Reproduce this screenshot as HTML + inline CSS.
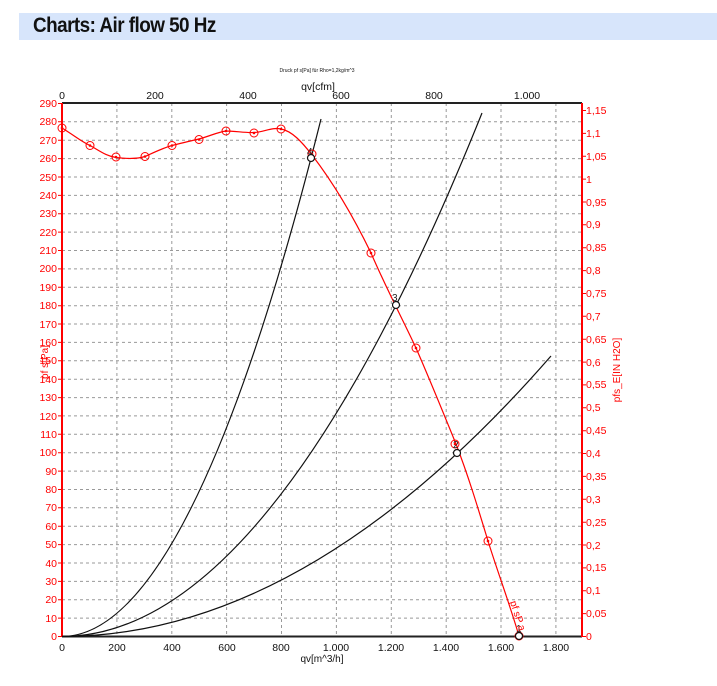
<!DOCTYPE html>
<html><head><meta charset="utf-8"><style>
body{margin:0;background:#fff;width:717px;height:686px;overflow:hidden;font-family:"Liberation Sans",sans-serif}
.hdr{position:absolute;left:19px;top:13px;width:698px;height:27px;background:#d7e5fb}
.hdr span{position:absolute;left:14px;top:1px;font-size:21px;font-weight:bold;color:#111;letter-spacing:-0.6px;transform:scaleX(0.9);transform-origin:0 0;white-space:nowrap}
svg{position:absolute;left:0;top:0}
</style></head><body>
<div class="hdr"><span>Charts: Air flow 50 Hz</span></div>
<svg width="717" height="686" font-family="Liberation Sans, sans-serif">
<g stroke="#999" stroke-width="1" stroke-dasharray="3,3">
<line x1="62" x2="582" y1="618.1" y2="618.1"/><line x1="62" x2="582" y1="599.7" y2="599.7"/><line x1="62" x2="582" y1="581.4" y2="581.4"/><line x1="62" x2="582" y1="563" y2="563"/><line x1="62" x2="582" y1="544.6" y2="544.6"/><line x1="62" x2="582" y1="526.2" y2="526.2"/><line x1="62" x2="582" y1="507.8" y2="507.8"/><line x1="62" x2="582" y1="489.5" y2="489.5"/><line x1="62" x2="582" y1="471.1" y2="471.1"/><line x1="62" x2="582" y1="452.7" y2="452.7"/><line x1="62" x2="582" y1="434.3" y2="434.3"/><line x1="62" x2="582" y1="415.9" y2="415.9"/><line x1="62" x2="582" y1="397.6" y2="397.6"/><line x1="62" x2="582" y1="379.2" y2="379.2"/><line x1="62" x2="582" y1="360.8" y2="360.8"/><line x1="62" x2="582" y1="342.4" y2="342.4"/><line x1="62" x2="582" y1="324" y2="324"/><line x1="62" x2="582" y1="305.7" y2="305.7"/><line x1="62" x2="582" y1="287.3" y2="287.3"/><line x1="62" x2="582" y1="268.9" y2="268.9"/><line x1="62" x2="582" y1="250.5" y2="250.5"/><line x1="62" x2="582" y1="232.1" y2="232.1"/><line x1="62" x2="582" y1="213.7" y2="213.7"/><line x1="62" x2="582" y1="195.4" y2="195.4"/><line x1="62" x2="582" y1="177" y2="177"/><line x1="62" x2="582" y1="158.6" y2="158.6"/><line x1="62" x2="582" y1="140.2" y2="140.2"/><line x1="62" x2="582" y1="121.8" y2="121.8"/>
<line y1="103" y2="636" x1="116.9" x2="116.9"/><line y1="103" y2="636" x1="171.8" x2="171.8"/><line y1="103" y2="636" x1="226.6" x2="226.6"/><line y1="103" y2="636" x1="281.5" x2="281.5"/><line y1="103" y2="636" x1="336.4" x2="336.4"/><line y1="103" y2="636" x1="391.3" x2="391.3"/><line y1="103" y2="636" x1="446.2" x2="446.2"/><line y1="103" y2="636" x1="501" x2="501"/><line y1="103" y2="636" x1="555.9" x2="555.9"/>
</g>
<line x1="62" x2="582" y1="103" y2="103" stroke="#222" stroke-width="2"/>
<line x1="62" x2="582" y1="636.5" y2="636.5" stroke="#222" stroke-width="2"/>
<line x1="62" x2="62" y1="103" y2="637" stroke="red" stroke-width="2"/>
<line x1="582" x2="582" y1="103" y2="637" stroke="red" stroke-width="2"/>
<g stroke="red" stroke-width="1">
<path d="M58 636.5h4M58 618.1h4M58 599.7h4M58 581.4h4M58 563h4M58 544.6h4M58 526.2h4M58 507.8h4M58 489.5h4M58 471.1h4M58 452.7h4M58 434.3h4M58 415.9h4M58 397.6h4M58 379.2h4M58 360.8h4M58 342.4h4M58 324h4M58 305.7h4M58 287.3h4M58 268.9h4M58 250.5h4M58 232.1h4M58 213.7h4M58 195.4h4M58 177h4M58 158.6h4M58 140.2h4M58 121.8h4M58 103.5h4"/>
<path d="M582 636.5h4M582 613.6h4M582 590.8h4M582 567.9h4M582 545h4M582 522.2h4M582 499.3h4M582 476.4h4M582 453.5h4M582 430.7h4M582 407.8h4M582 384.9h4M582 362.1h4M582 339.2h4M582 316.3h4M582 293.5h4M582 270.6h4M582 247.7h4M582 224.8h4M582 202h4M582 179.1h4M582 156.2h4M582 133.4h4M582 110.5h4"/>
</g>
<g fill="red" font-size="10.5" text-anchor="end">
<text x="57" y="640">0</text><text x="57" y="622">10</text><text x="57" y="603">20</text><text x="57" y="585">30</text><text x="57" y="567">40</text><text x="57" y="548">50</text><text x="57" y="530">60</text><text x="57" y="511">70</text><text x="57" y="493">80</text><text x="57" y="475">90</text><text x="57" y="456">100</text><text x="57" y="438">110</text><text x="57" y="420">120</text><text x="57" y="401">130</text><text x="57" y="383">140</text><text x="57" y="364">150</text><text x="57" y="346">160</text><text x="57" y="328">170</text><text x="57" y="309">180</text><text x="57" y="291">190</text><text x="57" y="272">200</text><text x="57" y="254">210</text><text x="57" y="236">220</text><text x="57" y="217">230</text><text x="57" y="199">240</text><text x="57" y="181">250</text><text x="57" y="162">260</text><text x="57" y="144">270</text><text x="57" y="125">280</text><text x="57" y="107">290</text>
</g>
<g fill="red" font-size="10.5">
<text x="586" y="640">0</text><text x="586" y="617">0,05</text><text x="586" y="594">0,1</text><text x="586" y="571">0,15</text><text x="586" y="549">0,2</text><text x="586" y="526">0,25</text><text x="586" y="503">0,3</text><text x="586" y="480">0,35</text><text x="586" y="457">0,4</text><text x="586" y="434">0,45</text><text x="586" y="411">0,5</text><text x="586" y="388">0,55</text><text x="586" y="366">0,6</text><text x="586" y="343">0,65</text><text x="586" y="320">0,7</text><text x="586" y="297">0,75</text><text x="586" y="274">0,8</text><text x="586" y="251">0,85</text><text x="586" y="228">0,9</text><text x="586" y="206">0,95</text><text x="586" y="183">1</text><text x="586" y="160">1,05</text><text x="586" y="137">1,1</text><text x="586" y="114">1,15</text>
</g>
<g fill="#111" font-size="10.5" text-anchor="middle">
<text x="62" y="651">0</text><text x="117" y="651">200</text><text x="172" y="651">400</text><text x="227" y="651">600</text><text x="281" y="651">800</text><text x="336" y="651">1.000</text><text x="391" y="651">1.200</text><text x="446" y="651">1.400</text><text x="501" y="651">1.600</text><text x="556" y="651">1.800</text>
<text x="322" y="662" font-size="10">qv[m^3/h]</text>
<text x="62" y="99">0</text><text x="155" y="99">200</text><text x="248" y="99">400</text><text x="341" y="99">600</text><text x="434" y="99">800</text><text x="527" y="99">1.000</text>
<text x="318" y="90" font-size="10.5">qv[cfm]</text>
<text x="317" y="72" font-size="5">Druck pf s[Pa] für Rho=1,2kg/m^3</text>
</g>
<text transform="translate(48,362) rotate(-90)" fill="red" font-size="10" text-anchor="middle">pf s[Pa]</text>
<text transform="translate(620,370) rotate(-90)" fill="red" font-size="10" text-anchor="middle">pfs_E[IN H2O]</text>
<g fill="none" stroke="#111" stroke-width="1.2">
<path d="M62 636.5 Q191.5 636.5 321 119"/>
<path d="M62 636.5 Q272 636.5 482 113"/>
<path d="M62 636.5 Q306.5 636.5 551 356"/>
</g>
<path fill="none" stroke="red" stroke-width="1.2" d="M62 128 C75 136 82 142 90 145.5 C100 151 106 156 116 157.5 C128 159 137 159 145 156.5 C155 152 163 148 172 145.5 C182 143 190 141 199 139 C210 136 218 132 226 131 C236 131 245 133 254 132.5 C264 132 272 127 281 129 C292 131 302 142 312 155 C335 185 355 220 371 253 C387 290 402 318 416 348 C430 380 443 412 456 444 C468 475 478 508 488 541 C498 573 510 605 519 636"/>
<g fill="none" stroke="red" stroke-width="1">
<circle cx="62" cy="128" r="4"/><circle cx="90" cy="145.5" r="4"/><circle cx="116" cy="157" r="4"/><circle cx="145" cy="156.5" r="4"/><circle cx="172" cy="145.5" r="4"/><circle cx="199" cy="139.5" r="4"/><circle cx="226" cy="131" r="4"/><circle cx="254" cy="133" r="4"/><circle cx="281" cy="129" r="4"/><circle cx="312" cy="154" r="4"/><circle cx="371" cy="253" r="4"/><circle cx="416" cy="348" r="4"/><circle cx="455" cy="444" r="4"/><circle cx="488" cy="541" r="4"/><circle cx="519" cy="636" r="4"/>
</g>
<g fill="red">
<circle cx="62" cy="128" r="1.3"/><circle cx="90" cy="145.5" r="1.3"/><circle cx="116" cy="157" r="1.3"/><circle cx="145" cy="156.5" r="1.3"/><circle cx="172" cy="145.5" r="1.3"/><circle cx="199" cy="139.5" r="1.3"/><circle cx="226" cy="131" r="1.3"/><circle cx="254" cy="133" r="1.3"/><circle cx="281" cy="129" r="1.3"/><circle cx="312" cy="154" r="1.3"/><circle cx="371" cy="253" r="1.3"/><circle cx="416" cy="348" r="1.3"/><circle cx="455" cy="444" r="1.3"/><circle cx="488" cy="541" r="1.3"/><circle cx="519" cy="636" r="1.3"/>
</g>
<g fill="#fff" stroke="#111" stroke-width="1.2">
<circle cx="311" cy="158" r="3.5"/><circle cx="396" cy="305" r="3.5"/><circle cx="457" cy="453" r="3.5"/><circle cx="519" cy="636" r="3.5"/>
</g>
<g fill="#222" font-size="10">
<text x="307" y="155">4</text><text x="392" y="301">3</text><text x="453" y="448">2</text><text x="516" y="632">1</text>
</g>
<text transform="translate(510,602) rotate(72)" fill="red" font-size="10">pf sP a</text>
</svg>
</body></html>
